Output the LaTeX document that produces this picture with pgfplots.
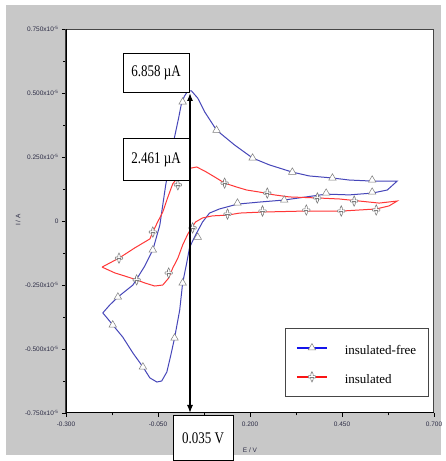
\documentclass[border=0pt]{standalone}
\usepackage{fontspec}
\setmainfont{Liberation Serif}
\newfontfamily\sansf{Liberation Sans}
\usepackage{graphicx}
\usepackage{pgfplots}
\pgfplotsset{compat=1.18}
\usetikzlibrary{arrows.meta}

\definecolor{bgcol}{RGB}{200,200,200}
\definecolor{cvblue}{RGB}{70,70,185}
\definecolor{cvred}{RGB}{255,55,55}
\definecolor{legblue}{RGB}{20,20,235}
\definecolor{legred}{RGB}{250,20,20}
\definecolor{tickcol}{RGB}{45,45,70}
\definecolor{markcol}{RGB}{125,125,125}

% four-pointed outline plus, like the instrument software marker
\pgfdeclareplotmark{starplus}{%
  \pgfpathmoveto{\pgfqpoint{0pt}{1.35\pgfplotmarksize}}%
  \pgfpathlineto{\pgfqpoint{0.3\pgfplotmarksize}{0.75\pgfplotmarksize}}%
  \pgfpathlineto{\pgfqpoint{0.3\pgfplotmarksize}{0.3\pgfplotmarksize}}%
  \pgfpathlineto{\pgfqpoint{0.85\pgfplotmarksize}{0.3\pgfplotmarksize}}%
  \pgfpathlineto{\pgfqpoint{1\pgfplotmarksize}{0pt}}%
  \pgfpathlineto{\pgfqpoint{0.85\pgfplotmarksize}{-0.3\pgfplotmarksize}}%
  \pgfpathlineto{\pgfqpoint{0.3\pgfplotmarksize}{-0.3\pgfplotmarksize}}%
  \pgfpathlineto{\pgfqpoint{0.3\pgfplotmarksize}{-0.75\pgfplotmarksize}}%
  \pgfpathlineto{\pgfqpoint{0pt}{-1.35\pgfplotmarksize}}%
  \pgfpathlineto{\pgfqpoint{-0.3\pgfplotmarksize}{-0.75\pgfplotmarksize}}%
  \pgfpathlineto{\pgfqpoint{-0.3\pgfplotmarksize}{-0.3\pgfplotmarksize}}%
  \pgfpathlineto{\pgfqpoint{-0.85\pgfplotmarksize}{-0.3\pgfplotmarksize}}%
  \pgfpathlineto{\pgfqpoint{-1\pgfplotmarksize}{0pt}}%
  \pgfpathlineto{\pgfqpoint{-0.85\pgfplotmarksize}{0.3\pgfplotmarksize}}%
  \pgfpathlineto{\pgfqpoint{-0.3\pgfplotmarksize}{0.3\pgfplotmarksize}}%
  \pgfpathlineto{\pgfqpoint{-0.3\pgfplotmarksize}{0.75\pgfplotmarksize}}%
  \pgfpathclose
  \pgfusepathqfillstroke
  \pgfpathmoveto{\pgfqpoint{-0.55\pgfplotmarksize}{0pt}}%
  \pgfpathlineto{\pgfqpoint{0.55\pgfplotmarksize}{0pt}}%
  \pgfusepathqstroke
}

\newcommand\pp[2]{({#1pt},{461pt-#2pt})}
\newcommand\tickfont{\sansf\fontsize{6.5}{7}\selectfont}
\newcommand\boxfont{\fontsize{13}{15}\selectfont}

\begin{document}
\begin{tikzpicture}
\fill[white] (0,0) rectangle (441pt,461pt);
\fill[bgcol] \pp{6}{455} rectangle \pp{441}{5};

\begin{axis}[
  at={(66pt,48pt)}, anchor=south west,
  scale only axis, width=368pt, height=384pt,
  xmin=-0.3, xmax=0.7, ymin=-0.75, ymax=0.75,
  xtick={-0.3,-0.05,0.2,0.45,0.7},
  xticklabels={-0.300,-0.050,0.200,0.450,0.700},
  ytick={-0.75,-0.5,-0.25,0,0.25,0.5,0.75},
  yticklabels={-0.750x10\textsuperscript{-5},-0.500x10\textsuperscript{-5},-0.250x10\textsuperscript{-5},0,0.250x10\textsuperscript{-5},0.500x10\textsuperscript{-5},0.750x10\textsuperscript{-5}},
  minor x tick num=1, minor y tick num=1,
  tick align=outside, tick pos=left,
  major tick length=4pt, minor tick length=2.5pt,
  tick style={black, line width=0.6pt},
  ticklabel style={font=\tickfont, text=tickcol},
  xticklabel style={yshift=-1pt},
  axis line style={draw=gray!55!black, line width=1pt},
  axis background/.style={fill=white},
  legend image code/.code={\draw[mark repeat=2,mark phase=2,#1] plot coordinates {(0pt,0pt) (15pt,0pt) (30pt,0pt)};},
  legend style={at={(0.595,0.221)}, anchor=north west, draw=gray!55!black,
    fill=white, inner xsep=11pt, inner ysep=10pt, row sep=10pt, column sep=16pt,
    font=\boxfont, nodes={inner sep=1pt, text height=15pt, text depth=2pt}},
  legend cell align=left,
]
% insulated-free
\addplot[cvblue, line width=1pt, forget plot] coordinates {
(-0.200,-0.359) (-0.186,-0.383) (-0.173,-0.406) (-0.146,-0.453) (-0.118,-0.516)
(-0.091,-0.570) (-0.072,-0.613) (-0.053,-0.629) (-0.040,-0.625) (-0.026,-0.590)
(-0.015,-0.523) (-0.005,-0.457) (0.009,-0.348) (0.017,-0.242) (0.028,-0.164)
(0.036,-0.102) (0.055,-0.047) (0.071,-0.004) (0.090,0.031) (0.117,0.047)
(0.166,0.066) (0.226,0.074) (0.293,0.082) (0.407,0.105) (0.470,0.102)
(0.532,0.109) (0.573,0.121) (0.600,0.156) (0.578,0.156) (0.532,0.156)
(0.470,0.160) (0.424,0.168) (0.361,0.176) (0.315,0.191) (0.253,0.219)
(0.207,0.246) (0.158,0.297) (0.109,0.355) (0.077,0.426) (0.058,0.480)
(0.041,0.508) (0.031,0.508) (0.022,0.488) (0.014,0.461) (0.006,0.402)
(-0.005,0.328) (-0.018,0.230) (-0.029,0.141) (-0.037,0.063) (-0.045,-0.016)
(-0.064,-0.113) (-0.086,-0.176) (-0.118,-0.250) (-0.159,-0.297) (-0.181,-0.328)
(-0.200,-0.359)};
% insulated
\addplot[cvred, line width=1pt, forget plot] coordinates {
(-0.202,-0.180) (-0.181,-0.164) (-0.156,-0.145) (-0.113,-0.105) (-0.072,-0.070)
(-0.064,-0.043) (-0.051,-0.004) (-0.037,0.035) (-0.024,0.090) (-0.010,0.145)
(0.009,0.180) (0.025,0.199) (0.041,0.207) (0.055,0.211) (0.077,0.195)
(0.104,0.172) (0.131,0.148) (0.163,0.133) (0.191,0.121) (0.226,0.113)
(0.266,0.102) (0.307,0.094) (0.383,0.090) (0.443,0.086) (0.497,0.078)
(0.551,0.070) (0.600,0.078) (0.578,0.059) (0.543,0.047) (0.451,0.039)
(0.353,0.039) (0.234,0.035) (0.172,0.031) (0.139,0.023) (0.098,0.020)
(0.071,0.012) (0.052,-0.004) (0.041,-0.027) (0.031,-0.051) (0.017,-0.094)
(0.004,-0.145) (-0.010,-0.184) (-0.021,-0.223) (-0.037,-0.250) (-0.059,-0.254)
(-0.086,-0.242) (-0.108,-0.230) (-0.140,-0.215) (-0.167,-0.203) (-0.202,-0.180)};
% sample markers
\addplot[only marks, mark=triangle*, mark size=4.3pt, forget plot,
  mark options={fill=white, draw=markcol, line width=0.5pt}] coordinates {
(0.017,0.465) (0.109,0.355) (0.207,0.246) (0.315,0.191) (0.424,0.168)
(0.532,0.160) (0.532,0.113) (0.407,0.109) (0.293,0.082) (0.166,0.070)
(0.058,-0.063) (-0.064,-0.113) (0.017,-0.242) (-0.005,-0.457) (-0.091,-0.570)
(-0.173,-0.406) (-0.159,-0.297)};
\addplot[only marks, mark=starplus, mark size=3.8pt, forget plot,
  mark options={fill=white, draw=markcol, line width=0.6pt}] coordinates {
(0.131,0.148) (0.247,0.109) (0.383,0.090) (0.483,0.078) (0.044,-0.027)
(0.139,0.027) (0.234,0.039) (0.353,0.043) (0.448,0.039) (0.543,0.043)
(-0.156,-0.145) (-0.064,-0.043) (-0.108,-0.230) (-0.021,-0.203) (0.004,0.141)};

\addlegendimage{legblue, line width=1.6pt, mark=triangle*, mark size=4.3pt,
  mark options={fill=white, draw=markcol, line width=0.5pt}}
\addlegendentry{insulated-free}
\addlegendimage{legred, line width=1.6pt, mark=starplus, mark size=3.8pt,
  mark options={fill=white, draw=markcol, line width=0.6pt}}
\addlegendentry{insulated}

\draw[black, line width=1.2pt] (rel axis cs:0,1) -- (rel axis cs:0,0) -- (rel axis cs:1,0);
\end{axis}

% annotations
\draw[black, line width=1.3pt, {Latex[length=8pt,width=6pt]}-{Latex[length=8pt,width=6pt]}]
  \pp{190}{413} -- \pp{190}{93};
\draw[black, line width=0.7pt, fill=white] \pp{123}{53} rectangle \pp{189}{92};
\node at \pp{156}{73} {\boxfont\scalebox{1}[1.25]{6.858 µA}};
\draw[black, line width=0.7pt, fill=white] \pp{123}{138} rectangle \pp{189}{180};
\node at \pp{156}{160} {\boxfont\scalebox{1}[1.25]{2.461 µA}};
\draw[black, line width=0.7pt, fill=white] \pp{173}{415} rectangle \pp{233}{460};
\node at \pp{203}{438} {\boxfont\scalebox{1}[1.25]{0.035 V}};
\node[font=\tickfont, text=tickcol] at \pp{250}{450} {E / V};
\node[font=\tickfont, text=tickcol, rotate=90] at \pp{18}{220} {I / A};
\end{tikzpicture}
\end{document}
